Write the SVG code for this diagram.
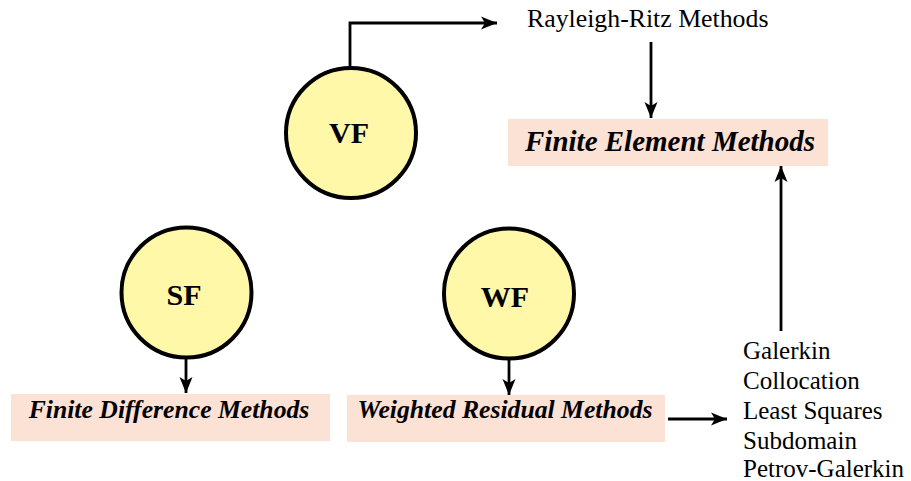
<svg xmlns="http://www.w3.org/2000/svg" width="911" height="481" viewBox="0 0 911 481">
  <style>
    .circle { fill: #FFF8A9; stroke: #000; stroke-width: 4; }
    .box { fill: #FCE1D5; stroke: none; }
    .edge { fill: none; stroke: #000; stroke-width: 2.8; marker-end: url(#head); }
  </style>
  <defs>
    <marker id="head" markerUnits="userSpaceOnUse" markerWidth="18" markerHeight="14" refX="16" refY="7" orient="auto">
      <path d="M16,7 L0,0.5 L4,7 L0,13.5 Z" fill="#000"/>
    </marker>
  </defs>

  <g font-family="Liberation Serif, DejaVu Serif, serif" fill="#000">
    <!-- formulation nodes -->
    <g id="node-vf">
      <circle class="circle" cx="351" cy="133" r="65"/>
      <text x="349" y="143" font-size="30" font-weight="bold" text-anchor="middle">VF</text>
    </g>
    <g id="node-sf">
      <circle class="circle" cx="186.5" cy="292.5" r="65"/>
      <text x="184" y="305" font-size="30" font-weight="bold" text-anchor="middle">SF</text>
    </g>
    <g id="node-wf">
      <circle class="circle" cx="509" cy="293.5" r="65"/>
      <text x="505" y="307" font-size="30" font-weight="bold" text-anchor="middle">WF</text>
    </g>

    <!-- method nodes -->
    <g id="node-rayleigh-ritz">
      <text x="527" y="27" font-size="25.8">Rayleigh-Ritz Methods</text>
    </g>
    <g id="node-fem">
      <rect class="box" x="508" y="119" width="320" height="47"/>
      <text x="670" y="151" font-size="29" font-weight="bold" font-style="italic" text-anchor="middle">Finite Element Methods</text>
    </g>
    <g id="node-fdm">
      <rect class="box" x="11" y="394" width="319" height="47"/>
      <text x="169" y="418" font-size="25.7" font-weight="bold" font-style="italic" text-anchor="middle">Finite Difference Methods</text>
    </g>
    <g id="node-wrm">
      <rect class="box" x="347" y="395" width="318" height="47"/>
      <text x="505" y="418" font-size="25.7" font-weight="bold" font-style="italic" text-anchor="middle">Weighted Residual Methods</text>
    </g>
    <g id="node-wrm-variants" font-size="25">
      <text x="743" y="359">Galerkin</text>
      <text x="743" y="389">Collocation</text>
      <text x="743" y="419">Least Squares</text>
      <text x="743" y="449">Subdomain</text>
      <text x="743" y="477">Petrov-Galerkin</text>
    </g>
  </g>

  <!-- connectors -->
  <g id="connectors">
    <path class="edge" d="M350,68 V23 H497"/>
    <path class="edge" d="M651,42 V118"/>
    <path class="edge" d="M186,358 V393"/>
    <path class="edge" d="M509,360 V395"/>
    <path class="edge" d="M668,419 H727"/>
    <path class="edge" d="M781,331 V166"/>
  </g>
</svg>
